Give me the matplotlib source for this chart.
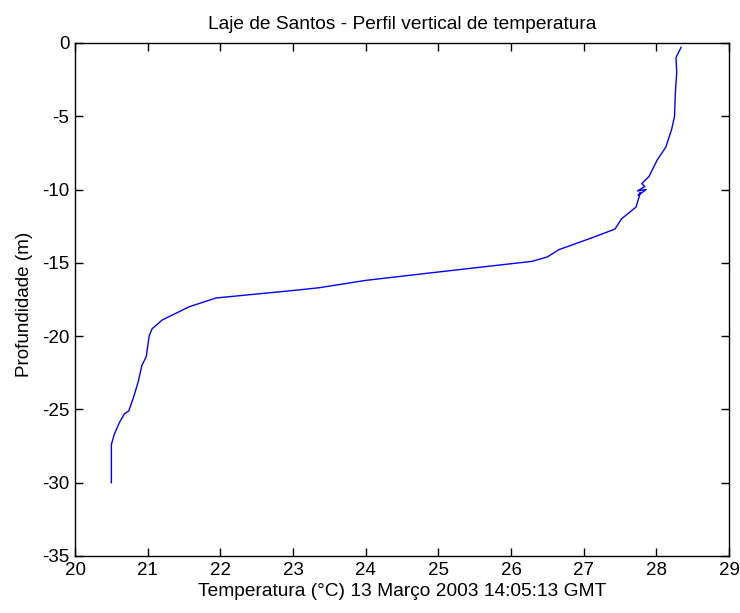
import matplotlib
matplotlib.use("Agg")
import matplotlib.pyplot as plt

plt.rcParams['font.family'] = ['Liberation Sans', 'DejaVu Sans']
plt.rcParams['axes.unicode_minus'] = False

# perfil CTD - temperatura (C) x profundidade (m)
temperatura = [28.34, 28.27, 28.28, 28.26, 28.25, 28.21, 28.13, 28.01, 27.90, 27.80,
               27.84, 27.74, 27.86, 27.75, 27.78, 27.72, 27.62, 27.52, 27.43, 27.11,
               26.66, 26.50, 26.29, 24.87, 24.00, 23.36, 23.08, 21.94, 21.57, 21.20,
               21.06, 21.02, 20.98, 20.92, 20.87, 20.81, 20.74, 20.68, 20.61, 20.54,
               20.50, 20.50]
profundidade = [-0.3, -1.0, -2.0, -3.5, -5.0, -5.9, -7.1, -8.0, -9.1, -9.6,
                -9.8, -10.1, -10.0, -10.4, -10.2, -11.2, -11.6, -12.0, -12.7, -13.3,
                -14.1, -14.6, -14.9, -15.7, -16.2, -16.7, -16.85, -17.4, -18.0, -18.9,
                -19.5, -20.0, -21.4, -22.0, -23.1, -24.1, -25.1, -25.3, -25.9, -26.7,
                -27.4, -30.0]

xticks = list(range(20, 30))
yticks = list(range(-35, 1, 5))

fig = plt.figure(figsize=(7.4, 6.13), dpi=100)
ax = fig.add_axes([0.1014, 0.093, 0.8838, 0.837])

ax.plot(temperatura, profundidade, color='#0000ff', linewidth=1.0)

ax.set_xlim(20, 29)
ax.set_ylim(-35, 0)
ax.set_xticks(xticks)
ax.set_yticks(yticks)
ax.tick_params(direction='in', length=6, width=1, labelsize=13.5,
               top=True, right=True)
ax.tick_params(axis='x', pad=4.5)
ax.tick_params(axis='y', pad=4)
for s in ax.spines.values():
    s.set_linewidth(1)

ax.set_title('Laje de Santos - Perfil vertical de temperatura', fontsize=13.8, pad=10)
ax.set_xlabel('Temperatura (°C) 13 Março 2003 14:05:13 GMT', fontsize=13.8, labelpad=2.5)
ax.set_ylabel('Profundidade (m)', fontsize=13.6)
ax.yaxis.set_label_coords(-0.064, 0.49)

fig.savefig('out.png', dpi=100)
